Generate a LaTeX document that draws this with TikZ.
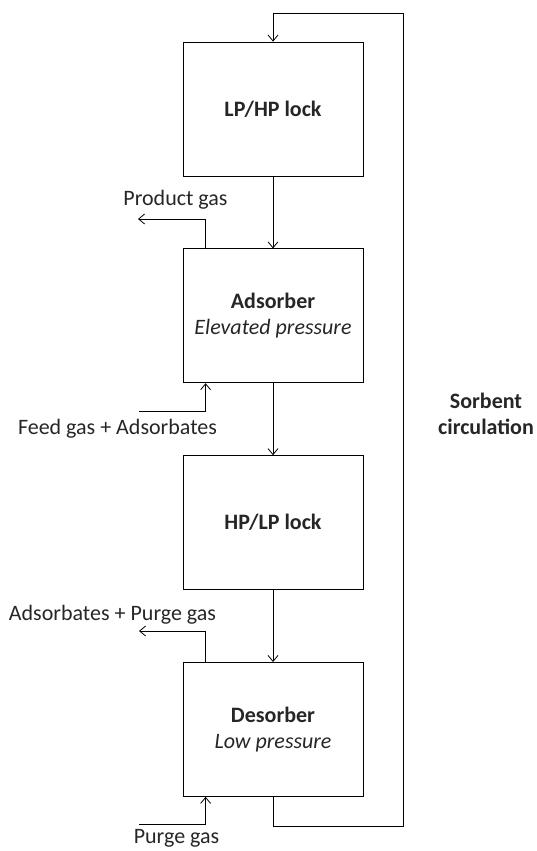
\documentclass[tikz,border=0pt]{standalone}
\usepackage{fontspec}
\setmainfont{Carlito}
\usepackage{tikz}
\usetikzlibrary{arrows.meta,positioning,calc}

\begin{document}
\begin{tikzpicture}[
  x=1bp, y=-1bp,
  font=\fontsize{22bp}{26bp}\selectfont,
  text=black!85,
  unit/.style={draw, align=center, minimum width=180bp, minimum height=134bp,
               line width=0.8bp},
  lbl/.style={inner sep=0pt},
  ar/.style={-{Straight Barb[length=6bp, width=10bp]}, line width=0.8bp}
]
\useasboundingbox (0,0) rectangle (537,851);

% --- column of units ----------------------------------------------------
\node[unit] (lphp) at (273,109) {\textbf{LP/HP lock}};
\node[unit, below=72bp of lphp] (ads) {\textbf{Adsorber}\\ \textit{Elevated pressure}};
\node[unit, below=72bp of ads] (hplp) {\textbf{HP/LP lock}};
\node[unit, below=72bp of hplp] (des) {\textbf{Desorber}\\ \textit{Low pressure}};

% --- sorbent path -------------------------------------------------------
\draw[ar] (lphp) -- (ads);
\draw[ar] (ads) -- (hplp);
\draw[ar] (hplp) -- (des);

\coordinate (loopbot) at (403,826);
\coordinate (looptop) at (403,13);
\draw[ar] (des.south) |- (loopbot) -- (looptop) -| (lphp.north);
\node[lbl, align=center] (circ) at (486,414) {\textbf{Sorbent}\\\textbf{circulation}};

% --- gas streams --------------------------------------------------------
\coordinate (prodout) at (138,219);
\draw[ar] ([xshift=23bp]ads.north west) |- (prodout);
\node[lbl] (prodlbl) at (175.5,200) {Product gas};

\coordinate (feedin) at (139,411);
\draw[ar] (feedin) -| ([xshift=23bp]ads.south west);
\node[lbl] (feedlbl) at (117.5,429) {Feed gas + Adsorbates};

\coordinate (purgeout) at (139,631);
\draw[ar] ([xshift=23bp]des.north west) |- (purgeout);
\node[lbl] (outlbl) at (112.5,615) {Adsorbates + Purge gas};

\coordinate (purgein) at (139,824);
\draw[ar] (purgein) -| ([xshift=23bp]des.south west);
\node[lbl, anchor=base] (purgelbl) at (176.5,843) {Purge gas};

\end{tikzpicture}
\end{document}
